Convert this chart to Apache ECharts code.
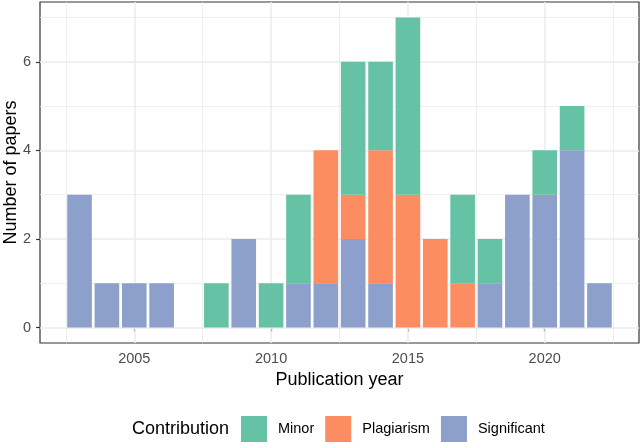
<!DOCTYPE html>
<html><head><meta charset="utf-8">
<script src="https://cdn.jsdelivr.net/npm/echarts@6/dist/echarts.min.js"></script>
<style>html,body{margin:0;padding:0;background:#fff}#c{width:640px;height:442px}</style>
</head><body><div id="c"></div>
<script>
const years = [2003,2004,2005,2006,2007,2008,2009,2010,2011,2012,2013,2014,2015,2016,2017,2018,2019,2020,2021,2022];
const significant = [3,1,1,1,0,0,2,0,1,1,2,1,0,0,0,1,3,3,4,1];
const plagiarism  = [0,0,0,0,0,0,0,0,0,3,1,3,3,2,1,0,0,0,0,0];
const minor       = [0,0,0,0,0,1,0,1,2,0,3,2,4,0,2,1,0,1,1,0];
const xTicks = [2005,2010,2015,2020];
const xMinorLines = [2002.5,2007.5,2012.5,2017.5,2022.5];
const yTicks = [0,2,4,6];
const yMinorLines = [1,3,5,7];

const chart = echarts.init(document.getElementById('c'), null, {renderer:'canvas'});
const font = 'Liberation Sans, Arial, Helvetica, sans-serif';

// stack order bottom -> top: Significant, Plagiarism, Minor
const stackOrder = [['Significant', significant, '#8DA0CB'], ['Plagiarism', plagiarism, '#FC8D62'], ['Minor', minor, '#66C2A5']];
const base = years.map(()=>0);
const stacked = stackOrder.map(([name, arr, color]) => {
  const d = years.map((y,i)=>{ const b = base[i]; base[i] += arr[i]; return [y, b, b+arr[i]]; }).filter(p=>p[2]>p[1]);
  return {name, data:d, color};
});
const BAR_W = 0.9;
function renderBar(params, api){
  const x = api.value(0), lo = api.value(1), hi = api.value(2);
  const p1 = api.coord([x - BAR_W/2, hi]);
  const p2 = api.coord([x + BAR_W/2, lo]);
  return {type:'rect', shape:{x:p1[0], y:p1[1], width:p2[0]-p1[0], height:p2[1]-p1[1]},
    style:{fill:api.visual('color')}};
}
const gridLines = [].concat(
  yMinorLines.map(v=>({yAxis:v, lineStyle:{color:'#EBEBEB', width:0.8, type:'solid'}})),
  xMinorLines.map(v=>({xAxis:v, lineStyle:{color:'#EBEBEB', width:0.8, type:'solid'}})),
  yTicks.map(v=>({yAxis:v, lineStyle:{color:'#EBEBEB', width:1.5, type:'solid'}})),
  xTicks.map(v=>({xAxis:v, lineStyle:{color:'#EBEBEB', width:1.5, type:'solid'}}))
);
const series = stacked.map((s, k) => {
  const o = {type:'custom', name:s.name, data:s.data, renderItem:renderBar, z:2,
    itemStyle:{color:s.color}, encode:{x:0, y:[1,2]}};
  if (k === 0) o.markLine = {silent:true, symbol:['none','none'], z:1, label:{show:false}, animation:false, data:gridLines};
  return o;
});
chart.setOption({
  animation:false,
  textStyle:{fontFamily:font},
  title:{text:'Contribution', left:132, top:420, padding:0,
    textStyle:{fontSize:18, fontWeight:'normal', color:'#000', fontFamily:font}},
  graphic:[{type:'text', x:11, y:172.5, rotation:Math.PI/2, silent:true,
    style:{text:'Number of papers', fontSize:18, fontFamily:font, fill:'#000', align:'center', verticalAlign:'middle'}}],
  legend:{left:241, top:416, padding:0, itemWidth:26, itemHeight:26, itemGap:11, icon:'rect',
    data:['Minor','Plagiarism','Significant'],
    textStyle:{fontSize:14.5, color:'#000', fontFamily:font, padding:[0,0,0,6]}},
  grid:{left:40, top:2, width:599, height:341, outerBoundsMode:'none', show:true, borderColor:'#333333', borderWidth:1.2, backgroundColor:'#fff', containLabel:false},
  xAxis:{type:'value', min:2001.555, max:2023.445,
    name:'Publication year', nameLocation:'middle', nameGap:27,
    nameTextStyle:{fontSize:18, color:'#000', fontFamily:font},
    axisLine:{show:false}, splitLine:{show:false},
    axisTick:{show:true, customValues:xTicks, length:4, lineStyle:{color:'#333333', width:1.2}},
    axisLabel:{customValues:xTicks, formatter:v=>String(v), fontSize:14.5, color:'#4D4D4D', margin:8, fontFamily:font}},
  yAxis:{type:'value', min:-0.35, max:7.35,
    axisLine:{show:false}, splitLine:{show:false},
    axisTick:{show:true, customValues:yTicks, length:4, lineStyle:{color:'#333333', width:1.2}},
    axisLabel:{customValues:yTicks, formatter:v=>String(v), fontSize:14.5, color:'#4D4D4D', margin:9, fontFamily:font}},
  series:series
});
</script></body></html>
